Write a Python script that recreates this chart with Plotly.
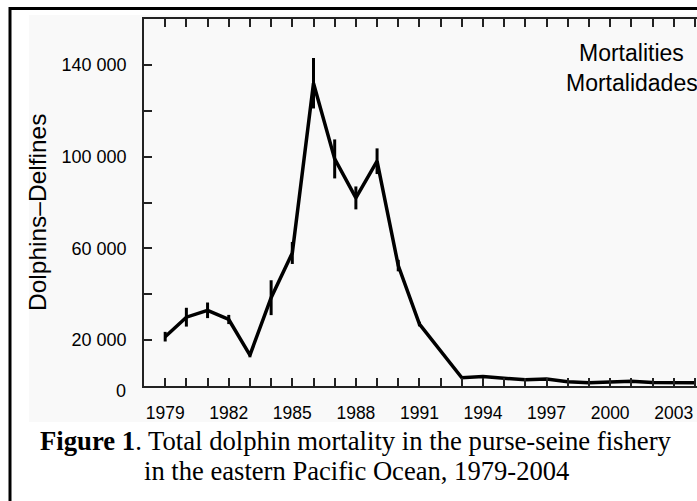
import plotly.graph_objects as go

years = list(range(1979, 2005))
mortality = [21500, 30000, 33000, 29000, 13500, 38500, 58000, 132000, 99000, 82000,
             98000, 52500, 27000, 15500, 3600, 4100, 3300, 2700, 3000, 1900,
             1400, 1600, 2100, 1500, 1500, 1450]
errors = [2100, 4100, 3400, 2000, 1000, 7600, 4800, 11000, 8500, 5000,
          5600, 2500, 1000, 0, 0, 0, 0, 0, 0, 0,
          0, 0, 0, 0, 0, 0]

x_tickvals = years
x_ticktext = [str(y) if (y - 1979) % 3 == 0 else "" for y in years]
y_tickvals = [0, 20000, 40000, 60000, 80000, 100000, 120000, 140000]
y_ticktext = ["", "20 000", "", "60 000", "", "100 000", "", "140 000"]

W, H = 697, 501
L, R, T, B = 144, 0, 19, 115
pw, ph = W - L - R, H - T - B

def px(x):
    return (x - L) / pw

def py(y):
    return (H - B - y) / ph

sans = "Arial, Liberation Sans, sans-serif"
serif = "Times New Roman, Liberation Serif, serif"

fig = go.Figure()
fig.add_trace(go.Scatter(
    x=years, y=mortality, mode="lines",
    line=dict(color="black", width=3.5),
    error_y=dict(type="data", array=errors, thickness=3, width=0, color="black"),
    showlegend=False, hoverinfo="x+y",
))

fig.update_layout(
    width=W, height=H,
    margin=dict(l=L, r=R, t=T, b=B),
    paper_bgcolor="white",
    plot_bgcolor="rgba(0,0,0,0)",
    font=dict(family=sans, color="black"),
    xaxis=dict(
        range=[1978, 2004.1], tickvals=x_tickvals, ticktext=x_ticktext,
        ticks="inside", ticklen=8, tickwidth=1.5, tickcolor="#222",
        showline=True, linecolor="#222", linewidth=1.5, mirror="ticks",
        showgrid=False, zeroline=False,
        tickfont=dict(size=17.5, family=sans, color="black"),
        ticklabelstandoff=10,
    ),
    yaxis=dict(
        range=[0, 160000], tickvals=y_tickvals, ticktext=y_ticktext,
        ticks="inside", ticklen=8, tickwidth=1.5, tickcolor="#222",
        showline=True, linecolor="#222", linewidth=1.5,
        showgrid=False, zeroline=False,
        tickfont=dict(size=18, family=sans, color="black"),
        ticklabelstandoff=12,
    ),
    shapes=[
        dict(type="rect", xref="paper", yref="paper",
             x0=px(29), x1=px(720), y0=py(422), y1=py(15),
             fillcolor="#f9f9f9", line=dict(width=0), layer="below"),
        dict(type="rect", xref="paper", yref="paper",
             x0=px(10), x1=px(740), y0=py(540), y1=py(8.5),
             fillcolor="rgba(0,0,0,0)", line=dict(color="black", width=3)),
    ],
    annotations=[
        dict(text="0", xref="paper", yref="paper", x=px(128), y=py(391),
             xanchor="right", yanchor="middle", showarrow=False,
             font=dict(size=18, family=sans)),
        dict(text="Dolphins\u2013Delfines", xref="paper", yref="paper",
             x=px(37), y=py(213), textangle=-90, xanchor="center", yanchor="middle",
             showarrow=False, font=dict(size=24.5, family=sans)),
        dict(text="Mortalities", xref="paper", yref="paper", x=px(631.5), y=py(53),
             xanchor="center", yanchor="middle", showarrow=False,
             font=dict(size=23, family=sans)),
        dict(text="Mortalidades", xref="paper", yref="paper", x=px(631.5), y=py(83),
             xanchor="center", yanchor="middle", showarrow=False,
             font=dict(size=23, family=sans)),
        dict(text="<b>Figure 1</b>. Total dolphin mortality in the purse-seine fishery",
             xref="paper", yref="paper", x=px(356), y=py(441),
             xanchor="center", yanchor="middle", showarrow=False,
             font=dict(size=26.7, family=serif)),
        dict(text="in the eastern Pacific Ocean, 1979-2004",
             xref="paper", yref="paper", x=px(356), y=py(471),
             xanchor="center", yanchor="middle", showarrow=False,
             font=dict(size=26.6, family=serif)),
    ],
)

fig.write_html("out.html", config={"displayModeBar": False},
               post_script="document.body.style.margin='0';document.body.style.overflow='hidden';")
